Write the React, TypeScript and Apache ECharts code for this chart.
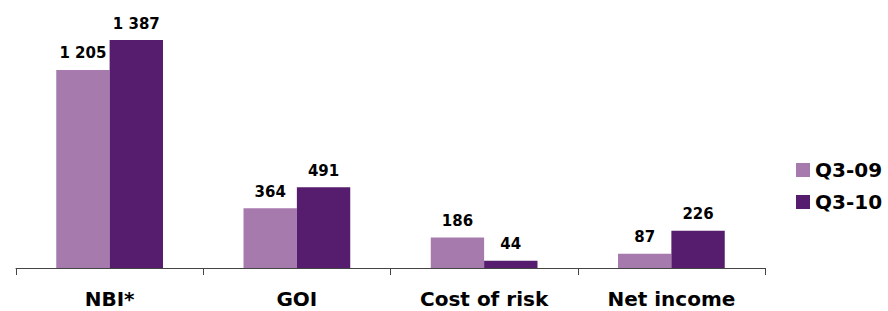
import React, { useEffect, useRef } from "react";
import * as echarts from "echarts";

const categories = ["NBI*", "GOI", "Cost of risk", "Net income"];
const seriesNames = ["Q3-09", "Q3-10"];
const q309 = [1205, 364, 186, 87];
const q310 = [1387, 491, 44, 226];

const fmt = (v: number) => String(v).replace(/\B(?=(\d{3})+(?!\d))/g, " ");

export default function App() {
  const ref = useRef<HTMLDivElement>(null);
  useEffect(() => {
    const chart = echarts.init(ref.current!, null, { renderer: "svg" });
    const font = "DejaVu Sans";
    const label = {
      show: true,
      position: "top",
      distance: 9,
      fontFamily: font,
      fontWeight: "bold",
      fontSize: 15,
      color: "#000",
      formatter: (p: any) => fmt(p.value),
    };
    chart.setOption({
      animation: false,
      grid: { left: 16, right: 123, top: 5, bottom: 43 },
      legend: {
        orient: "vertical",
        left: 796,
        top: 160,
        padding: 0,
        itemWidth: 14,
        itemHeight: 14,
        itemGap: 12,
        icon: "rect",
        textStyle: { fontFamily: font, fontWeight: "bold", fontSize: 20, color: "#000" },
        data: seriesNames,
      },
      xAxis: {
        type: "category",
        data: categories,
        axisLine: { lineStyle: { color: "#444", width: 1 } },
        axisTick: { show: true, length: 7, inside: false, lineStyle: { color: "#444" } },
        axisLabel: { fontFamily: font, fontWeight: "bold", fontSize: 20, color: "#000", margin: 21 },
      },
      yAxis: {
        type: "value",
        min: 0,
        max: 1600,
        show: false,
        splitLine: { show: false },
      },
      series: [
        {
          name: seriesNames[0],
          type: "bar",
          data: q309,
          itemStyle: { color: "#A77AAE" },
          barGap: "0%",
          barCategoryGap: "43%",
          label,
        },
        {
          name: seriesNames[1],
          type: "bar",
          data: q310,
          itemStyle: { color: "#561C6E" },
          barGap: "0%",
          barCategoryGap: "43%",
          label,
        },
      ],
    });
    return () => chart.dispose();
  }, []);
  return <div ref={ref} style={{ width: 888, height: 311, position: "absolute", left: 0, top: 0 }} />;
}
